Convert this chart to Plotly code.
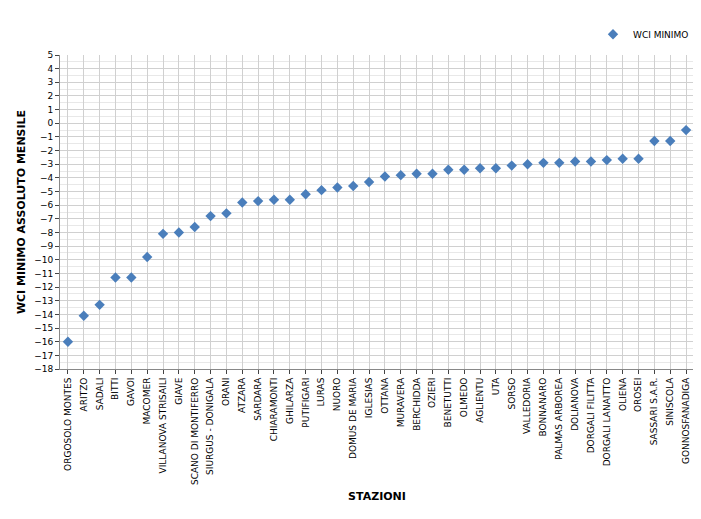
import plotly.graph_objects as go

stations = ["ORGOSOLO MONTES","ARITZO","SADALI","BITTI","GAVOI","MACOMER","VILLANOVA STRISAILI","GIAVE",
"SCANO DI MONTIFERRO","SIURGUS - DONIGALA","ORANI","ATZARA","SARDARA","CHIARAMONTI","GHILARZA","PUTIFIGARI",
"LURAS","NUORO","DOMUS DE MARIA","IGLESIAS","OTTANA","MURAVERA","BERCHIDDA","OZIERI","BENETUTTI","OLMEDO",
"AGLIENTU","UTA","SORSO","VALLEDORIA","BONNANARO","PALMAS ARBOREA","DOLIANOVA","DORGALI FILITTA",
"DORGALI LANAITTO","OLIENA","OROSEI","SASSARI S.A.R.","SINISCOLA","GONNOSFANADIGA"]
wci = [-16,-14.1,-13.3,-11.3,-11.3,-9.8,-8.1,-8.0,-7.6,-6.8,-6.6,-5.8,-5.7,-5.6,-5.6,-5.2,-4.9,-4.7,-4.6,-4.3,
-3.9,-3.8,-3.7,-3.7,-3.4,-3.4,-3.3,-3.3,-3.1,-3.0,-2.9,-2.9,-2.8,-2.8,-2.7,-2.6,-2.6,-1.3,-1.3,-0.5]
yticks = list(range(-18, 6))

fig = go.Figure(go.Scatter(x=stations, y=wci, mode="markers", name="WCI MINIMO",
    marker=dict(symbol="diamond", size=8, color="#4a7ebb")))
fig.update_layout(
    width=701, height=519, paper_bgcolor="white", plot_bgcolor="white",
    margin=dict(l=52, r=15, t=33, b=158),
    font=dict(family="DejaVu Sans", size=9, color="black"),
    showlegend=True,
    legend=dict(x=1, y=1.02, xanchor="right", yanchor="bottom", font=dict(size=9),
                itemwidth=30, tracegroupgap=0),
    xaxis=dict(title=dict(text="<b>STAZIONI</b>", font=dict(size=11), standoff=8), tickangle=-90,
               automargin=False, range=[-0.5, 39.5],
               showgrid=True, gridcolor="#d0d0d0", showline=True, linecolor="#888",
               ticks="outside", ticklen=4, tickfont=dict(size=9)),
    yaxis=dict(title=dict(text="<b>WCI MINIMO ASSOLUTO MENSILE</b>", font=dict(size=11), standoff=6),
               automargin=False,
               range=[-18, 5], tickvals=yticks, showgrid=True, gridcolor="#d0d0d0",
               showline=True, linecolor="#888", zeroline=False, ticks="outside", ticklen=4,
               minor=dict(dtick=0.5, showgrid=True, gridcolor="#e8e8e8")),
)
fig.write_html("out.html")
